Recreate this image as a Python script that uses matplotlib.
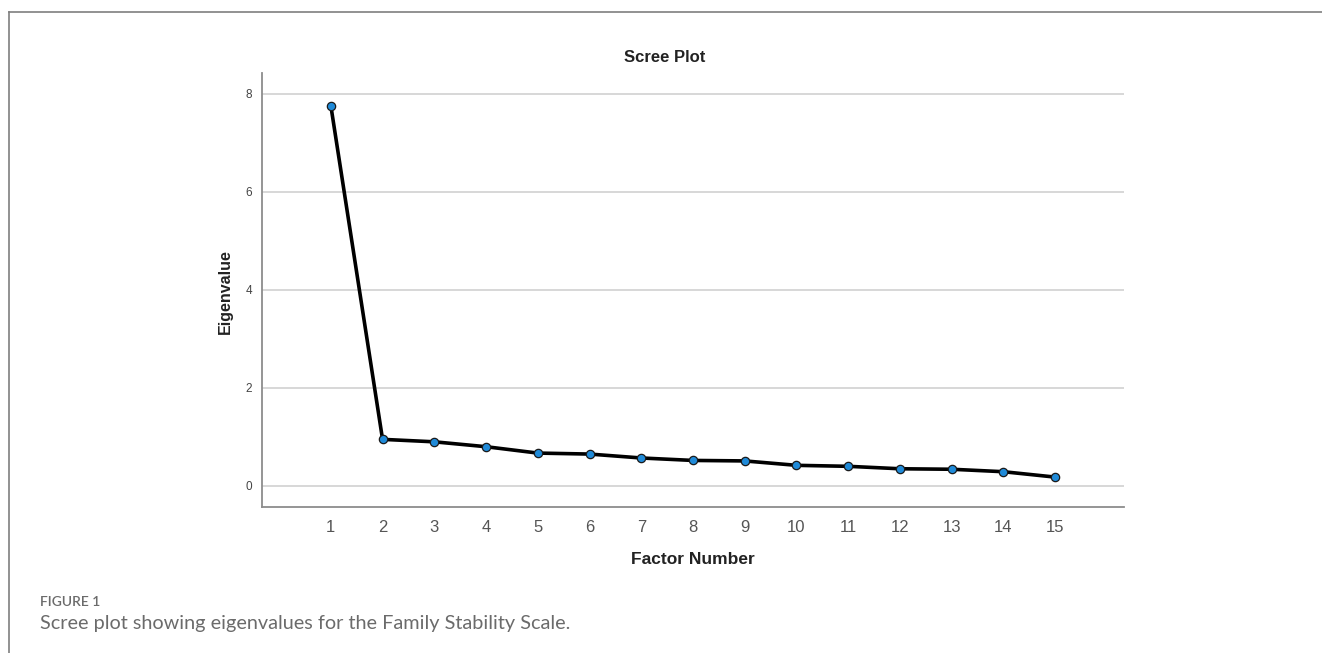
import matplotlib
matplotlib.use("Agg")
import matplotlib.pyplot as plt
from matplotlib.lines import Line2D

# ── data ───────────────────────────────────────────────────────────────────
factors = list(range(1, 16))
eigenvalues = [7.76, 0.95, 0.90, 0.80, 0.67, 0.65, 0.57, 0.52, 0.51,
               0.42, 0.40, 0.35, 0.34, 0.29, 0.18]
y_ticks = [0, 2, 4, 6, 8]

title = "Scree Plot"
x_label = "Factor Number"
y_label = "Eigenvalue"
fig_label = "FIGURE 1"
caption = "Scree plot showing eigenvalues for the Family Stability Scale."

BLUE = "#1f8ad8"
SPINE = "#8c8c8c"
GRID = "#d4d4d4"
TICK = "#555555"
FRAME = "#7f7f7f"
CAPTION = "#6b6b6b"

W, H = 1322, 653
fig = plt.figure(figsize=(W / 100, H / 100), dpi=100, facecolor="white")

# panel frame (top and left border of the figure box)
fig.add_artist(Line2D([9 / W, 1.0], [1 - 12 / H, 1 - 12 / H],
                      transform=fig.transFigure, color=FRAME, lw=1.2))
fig.add_artist(Line2D([9 / W, 9 / W], [0.0, 1 - 12 / H],
                      transform=fig.transFigure, color=FRAME, lw=1.2))

ax = fig.add_axes([262 / W, 146 / H, (1124 - 262) / W, (507 - 72.7) / H])
ax.set_xlim(-0.33, 16.33)
ax.set_ylim(-0.43, 8.43)

for y in y_ticks:
    ax.axhline(y, color=GRID, lw=1.3, zorder=1)

ax.plot(factors, eigenvalues, color="black", lw=2.6, zorder=3,
        solid_joinstyle="round")
ax.plot(factors, eigenvalues, linestyle="none", marker="o", markersize=6,
        markerfacecolor=BLUE, markeredgecolor="#1a1a1a",
        markeredgewidth=0.9, zorder=4)

ax.set_xticks(factors)
ax.set_yticks(y_ticks)
ax.tick_params(axis="x", length=0, pad=9, labelsize=12, labelcolor=TICK)
ax.tick_params(axis="y", length=0, pad=7, labelsize=8.5, labelcolor="#444444")
for lab in ax.get_xticklabels() + ax.get_yticklabels():
    lab.set_family("Liberation Sans")

for side in ("top", "right"):
    ax.spines[side].set_visible(False)
for side in ("left", "bottom"):
    ax.spines[side].set_color(SPINE)
    ax.spines[side].set_linewidth(1.3)

fig.text(665 / W, 1 - 58 / H, title, ha="center", va="center",
         fontsize=12, fontweight="bold", family="Liberation Sans",
         color="#222222")
fig.text(693 / W, 1 - 559 / H, x_label, ha="center", va="center",
         fontsize=12.5, fontweight="bold", family="Liberation Sans",
         color="#222222")
fig.text(225 / W, 1 - 292 / H, y_label, ha="center", va="center",
         rotation=90, fontsize=11.5, fontweight="bold",
         family="Liberation Sans", color="#222222")

fig.text(40 / W, 1 - 602 / H, fig_label, ha="left", va="center",
         fontsize=10, fontweight="semibold", family="Lato", color=CAPTION)
fig.text(40 / W, 1 - 624 / H, caption, ha="left", va="center",
         fontsize=14.3, family="Lato", color=CAPTION)

fig.savefig("out.png", dpi=100, facecolor="white")
